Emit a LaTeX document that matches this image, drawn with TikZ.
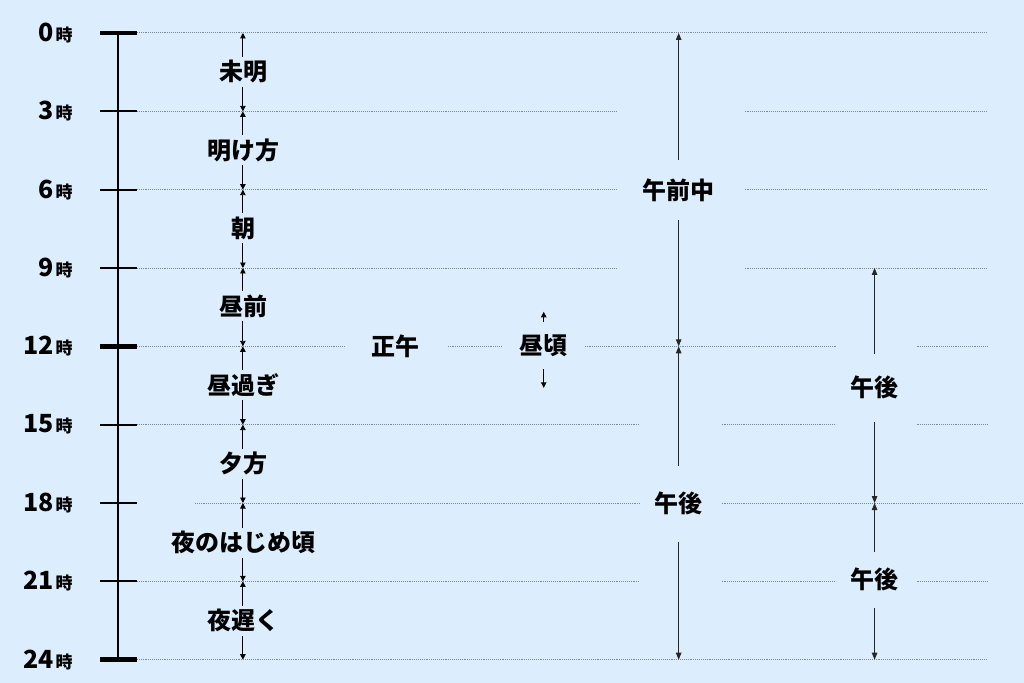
\documentclass[tikz,border=0pt]{standalone}
\usepackage{fontspec}
\setmainfont{Noto Sans CJK JP}
\usetikzlibrary{arrows.meta}
\definecolor{bgblue}{HTML}{DCEEFD}
\definecolor{dotgray}{HTML}{7D8A96}

\begin{document}
\begin{tikzpicture}[x=1pt,y=-1pt,font=\bfseries,line width=0.9pt,
  lbl/.style={font=\fontsize{24}{24}\selectfont\bfseries,inner xsep=2pt,inner ysep=#1},lbl/.default=3pt,
  hr/.style={anchor=east,inner sep=0pt},
  dot/.style={dotgray,line width=1pt,dash pattern=on 0.8pt off 1.1pt},
  sa/.style={->,>={Triangle[length=5.5pt,width=5.5pt]}},
  la/.style={->,>={Triangle[length=7pt,width=5.5pt]},black!85}]
  \fill[bgblue](0,0)rectangle(1024,683);
  % dotted hour lines
  \foreach \h/\a/\b in {0/137/988,3/137/616,3/745/988,6/137/616,6/745/988,9/137/616,9/745/988,
    12/137/345,12/448/503,12/585/836,12/917/988,15/137/640,15/722/836,15/917/988,
    18/195/640,18/722/1024,21/137/640,21/722/836,21/917/988,24/137/988}
    \draw[dot](\a,{33+26.125*\h})--(\b,{33+26.125*\h});
  % axis
  \draw[line width=2.3pt](118,33)--(118,660);
  \foreach \h in {3,6,9,15,18,21}\draw[line width=2pt](100,{33+26.125*\h})--(137,{33+26.125*\h});
  \foreach \h in {0,12,24}\draw[line width=4.5pt](100,{33+26.125*\h})--(137,{33+26.125*\h});
  \foreach \h in {0,3,...,24}{
    \node[hr](t\h)at(73,{33+26.125*\h}){{\fontsize{25}{25}\selectfont\h}\kern2pt{\fontsize{17}{17}\selectfont 時}};
    \coordinate(a\h)at(243,{33+26.125*\h});}
  % periods
  \node[lbl](p1)at(244,72){未明};\node[lbl](p2)at(244,150){明け方};
  \node[lbl](p3)at(244,228){朝};\node[lbl](p4)at(244,306){昼前};
  \node[lbl](p5)at(244,385){昼過ぎ};\node[lbl](p6)at(244,464){夕方};
  \node[lbl](p7)at(244,543){夜のはじめ頃};\node[lbl](p8)at(244,621){夜遅く};
  \foreach \i/\u/\d in {1/0/3,2/3/6,3/6/9,4/9/12,5/12/15,6/15/18,7/18/21,8/21/24}{
    \draw[sa](p\i.north-|a\u)--(a\u);\draw[sa](p\i.south-|a\d)--(a\d);}
  \node[lbl](sg)at(396,346){正午};
  \node[lbl=12pt](hk)at(544,346){昼頃};
  \coordinate(hk1)at(544,312);\coordinate(hk2)at(544,388);
  \draw[sa](hk)--(hk1);\draw[sa](hk)--(hk2);
  % am / pm
  \coordinate(b0)at(679,33);\coordinate(b12)at(679,346.5);\coordinate(b24)at(679,660);
  \node[lbl=18pt](am)at(679,190){午前中};\node[lbl=26pt](pm)at(679,504){午後};
  \draw[la](am)--(b0);\draw[la](am)--(b12);\draw[la](pm)--(b12);\draw[la](pm)--(b24);
  \coordinate(c9)at(875,268.1);\coordinate(c18)at(875,503.25);\coordinate(c24)at(875,660);
  \node[lbl=22pt](pa)at(875,388){午後};\node[lbl=16pt](pb)at(875,580){午後};
  \draw[la](pa)--(c9);\draw[la](pa)--(c18);\draw[la](pb)--(c18);\draw[la](pb)--(c24);
\end{tikzpicture}
\end{document}
